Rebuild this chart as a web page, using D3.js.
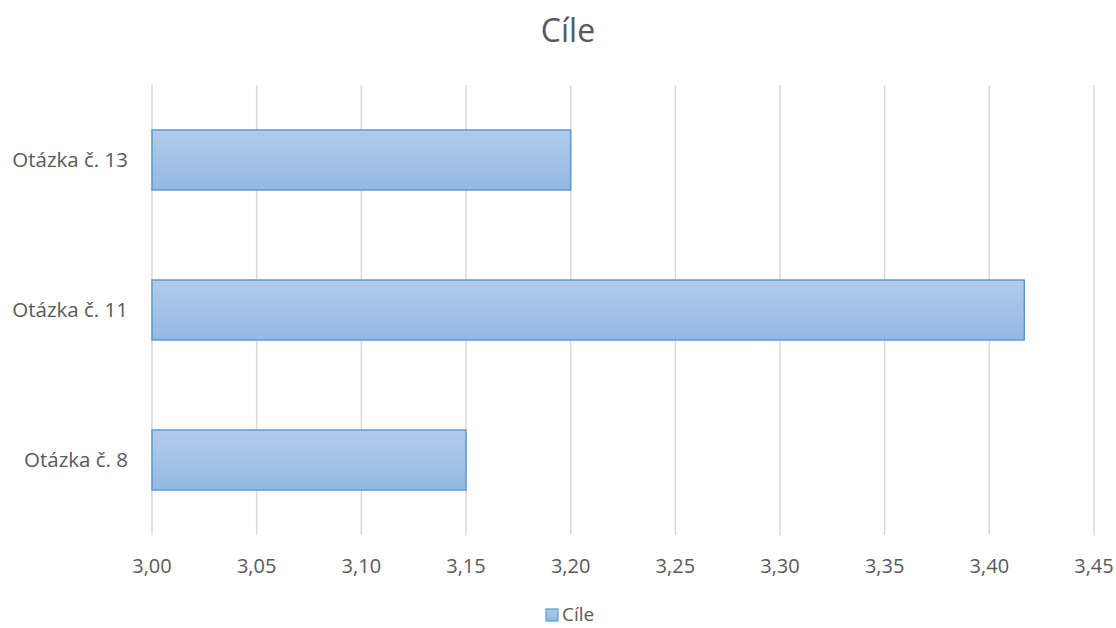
<!DOCTYPE html>
<html>
<head>
<meta charset="utf-8">
<script src="https://cdn.jsdelivr.net/npm/d3@7"></script>
<style>
  body { margin: 0; background: #fff; }
  text { font-family: "Open Sans", Calibri, sans-serif; fill: #595959; }
</style>
</head>
<body>
<div id="chart"></div>
<script>
const categories = ["Otázka č. 13", "Otázka č. 11", "Otázka č. 8"];
const values = [3.20, 3.4167, 3.15];
const xTicks = [3.00, 3.05, 3.10, 3.15, 3.20, 3.25, 3.30, 3.35, 3.40, 3.45];
const seriesName = "Cíle";

const width = 1116, height = 628;
const margin = { top: 85, right: 22, bottom: 93, left: 152 };

const svg = d3.select("#chart").append("svg")
  .attr("width", width)
  .attr("height", height);

const defs = svg.append("defs");
const grad = defs.append("linearGradient")
  .attr("id", "barGrad")
  .attr("x1", 0).attr("y1", 0).attr("x2", 0).attr("y2", 1);
grad.append("stop").attr("offset", "0%").attr("stop-color", "#b1cbe9");
grad.append("stop").attr("offset", "100%").attr("stop-color", "#94b9e4");

const x = d3.scaleLinear()
  .domain([3.00, 3.45])
  .range([margin.left, width - margin.right]);

const y = d3.scaleBand()
  .domain(categories)
  .range([margin.top, height - margin.bottom])
  .paddingInner(0.6)
  .paddingOuter(0.3);

const fmt = d => d3.format(".2f")(d).replace(".", ",");

// gridlines
svg.append("g")
  .selectAll("line")
  .data(xTicks)
  .join("line")
  .attr("x1", d => x(d)).attr("x2", d => x(d))
  .attr("y1", margin.top).attr("y2", height - margin.bottom)
  .attr("stroke", "#d9d9d9")
  .attr("stroke-width", 1.5);

// bars
svg.append("g")
  .selectAll("rect")
  .data(values)
  .join("rect")
  .attr("x", x(3.00))
  .attr("y", (d, i) => y(categories[i]))
  .attr("width", d => x(d) - x(3.00))
  .attr("height", y.bandwidth())
  .attr("fill", "url(#barGrad)")
  .attr("stroke", "#5b9bd5")
  .attr("stroke-width", 1.5);

// x tick labels
svg.append("g")
  .selectAll("text")
  .data(xTicks)
  .join("text")
  .attr("x", d => x(d))
  .attr("y", 573)
  .attr("text-anchor", "middle")
  .style("font-size", "20px")
  .text(fmt);

// category labels
svg.append("g")
  .selectAll("text")
  .data(categories)
  .join("text")
  .attr("x", 128)
  .attr("y", d => y(d) + y.bandwidth() / 2)
  .attr("dy", "0.35em")
  .attr("text-anchor", "end")
  .style("font-size", "20.5px")
  .text(d => d);

// title
svg.append("text")
  .attr("x", 568)
  .attr("y", 42)
  .attr("text-anchor", "middle")
  .style("font-size", "32px")
  .text(seriesName);

// legend
const lg = svg.append("g").attr("transform", "translate(546,609)");
lg.append("rect")
  .attr("width", 12).attr("height", 12)
  .attr("fill", "url(#barGrad)")
  .attr("stroke", "#5b9bd5")
  .attr("stroke-width", 1.2);
lg.append("text")
  .attr("x", 16)
  .attr("y", 12)
  .style("font-size", "19px")
  .text(seriesName);
</script>
</body>
</html>
